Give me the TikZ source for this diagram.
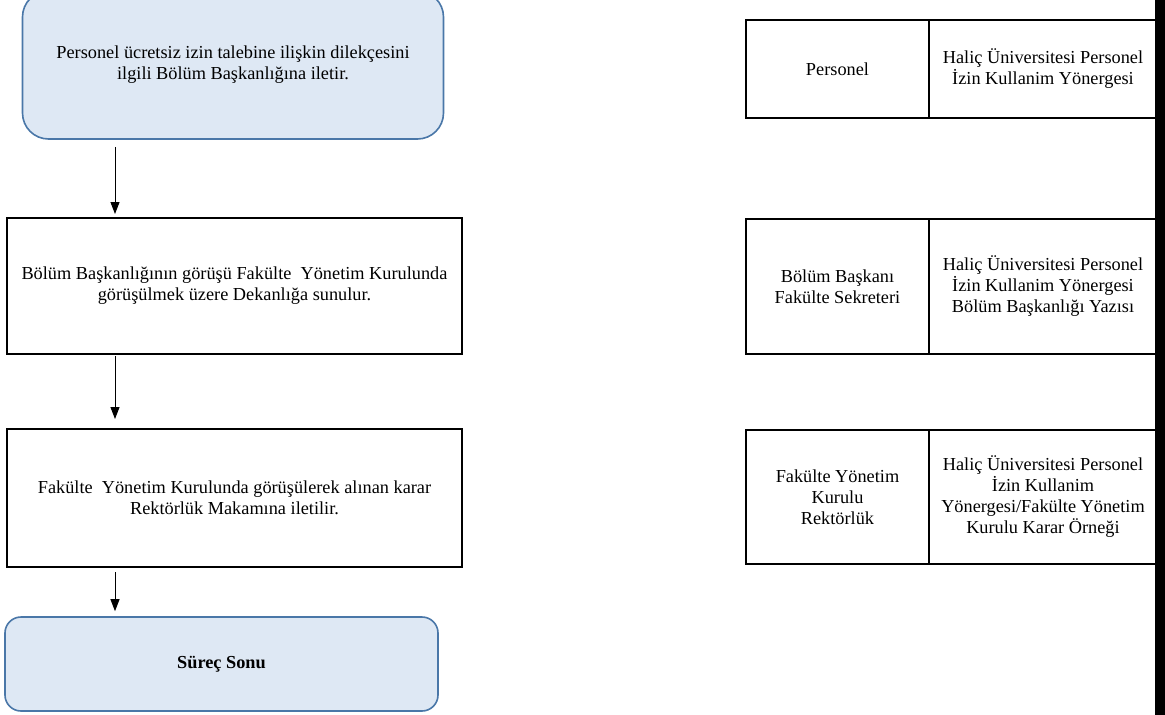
\documentclass[tikz,border=0pt]{standalone}
\usepackage{fontspec}
\setmainfont{Liberation Serif}
\usetikzlibrary{arrows.meta}

\definecolor{boxfill}{HTML}{DEE8F4}
\definecolor{boxline}{HTML}{4A77A8}

\tikzset{
  roundbox/.style={draw=boxline,line width=1.6pt,fill=boxfill,align=center,inner sep=0pt},
  stepbox/.style={draw,line width=2pt,align=center,inner sep=0pt},
  cellbox/.style={draw,line width=2pt,align=center,inner sep=0pt},
  flow/.style={-{Triangle[width=9pt,length=12pt]},line width=1pt}
}

\begin{document}
\begin{tikzpicture}[x=1pt,y=-1pt,font=\fontsize{18.3}{21}\selectfont]
 \useasboundingbox (0,0) rectangle (1165,715);
 % flow on the left
 \node[roundbox,rounded corners=26pt,minimum width=421pt,minimum height=148pt] (start) at (233,65)
   {Personel ücretsiz izin talebine ilişkin dilekçesini\\ilgili Bölüm Başkanlığına iletir.};
 \node[stepbox,minimum width=455pt,minimum height=136pt] (dekan) at (234.5,286)
   {Bölüm Başkanlığının görüşü Fakülte\ \ Yönetim Kurulunda\\görüşülmek üzere Dekanlığa sunulur.};
 \node[stepbox,minimum width=455pt,minimum height=138pt] (rektor) at (234.5,498)
   {Fakülte\ \ Yönetim Kurulunda görüşülerek alınan karar\\Rektörlük Makamına iletilir.};
 \node[roundbox,rounded corners=16pt,minimum width=433pt,minimum height=94pt] (son) at (221.5,664)
   {\bfseries Süreç Sonu};
 \coordinate (ax) at (115,0);
 \draw[flow,shorten <=7pt,shorten >=3pt] (start.south -| ax) -- (dekan.north -| ax);
 \draw[flow,shorten <=1pt,shorten >=9pt] (dekan.south -| ax) -- (rektor.north -| ax);
 \draw[flow,shorten <=4pt,shorten >=5pt] (rektor.south -| ax) -- (son.north -| ax);
 % who / documents on the right
 \node[cellbox,minimum width=183pt,minimum height=98pt] (kim1) at (837.5,69) {Personel};
 \node[cellbox,minimum width=228pt,minimum height=98pt] (bel1) at (1043,69)
   {Haliç Üniversitesi Personel\\İzin Kullanim Yönergesi};
 \node[cellbox,minimum width=183pt,minimum height=135pt] (kim2) at (837.5,286.5)
   {Bölüm Başkanı\\Fakülte Sekreteri};
 \node[cellbox,minimum width=228pt,minimum height=135pt] (bel2) at (1043,286.5)
   {Haliç Üniversitesi Personel\\İzin Kullanim Yönergesi\\Bölüm Başkanlığı Yazısı};
 \node[cellbox,minimum width=183pt,minimum height=134pt] (kim3) at (837.5,497)
   {Fakülte Yönetim\\Kurulu\\Rektörlük};
 \node[cellbox,minimum width=228pt,minimum height=134pt] (bel3) at (1043,497)
   {Haliç Üniversitesi Personel\\İzin Kullanim\\Yönergesi/Fakülte Yönetim\\Kurulu Karar Örneği};
 \fill (1155,0) rectangle (1165,715);
\end{tikzpicture}
\end{document}
